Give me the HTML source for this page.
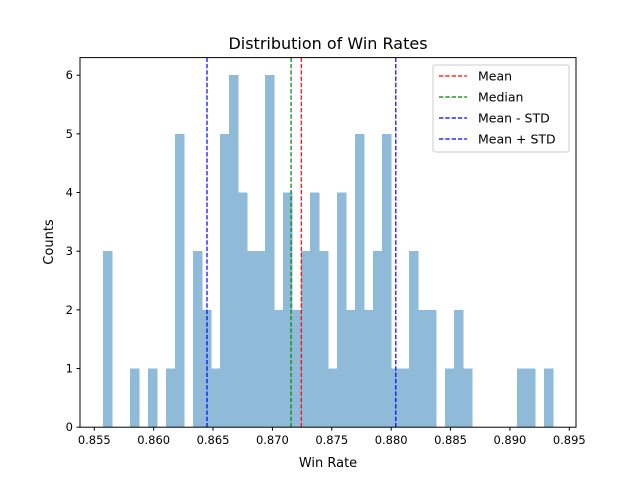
<!DOCTYPE html>
<html><head><meta charset="utf-8"><style>
body{margin:0;background:#fff;}
svg text{font-family:"DejaVu Sans","Liberation Sans",sans-serif;}
</style></head><body>
<svg id="chart" width="640" height="480" viewBox="0 0 640 480" xmlns="http://www.w3.org/2000/svg">
<rect width="640" height="480" fill="#fff"/>
<g id="bars" shape-rendering="crispEdges"></g>
<g id="vlines"></g>
<rect x="80" y="57.6" width="496" height="369.6" fill="none" stroke="#000" stroke-width="1"/>
<g id="xticks"></g>
<g id="yticks"></g>
<text x="328" y="49" font-size="16" text-anchor="middle">Distribution of Win Rates</text>
<text x="328" y="467" font-size="13" text-anchor="middle">Win Rate</text>
<text transform="translate(53,242) rotate(-90)" font-size="13" text-anchor="middle">Counts</text>
<g id="legend"></g>
</svg>
<script>
const counts=[3,0,0,1,0,1,0,1,5,0,3,2,1,5,6,4,3,3,6,2,4,2,3,4,3,1,4,2,5,2,3,5,1,1,3,2,2,0,1,2,1,0,0,0,0,0,1,1,0,1];
const binStart=0.85573, binEnd=0.89363;
const lineLabels=["Mean","Median","Mean - STD","Mean + STD"];
const lineValues=[0.87243,0.87157,0.86449,0.88039];
const lineColors=["red","green","blue","blue"];
const xTickLabels=["0.855","0.860","0.865","0.870","0.875","0.880","0.885","0.890","0.895"];
const xTickValues=[0.855,0.860,0.865,0.870,0.875,0.880,0.885,0.890,0.895];
const yTickValues=[0,1,2,3,4,5,6];
const NS="http://www.w3.org/2000/svg";
const L=80,R=576,T=57.6,B=427.2;
const xmin=0.853796,xmax=0.895564,ymax=6.3;
const X=v=>L+(v-xmin)/(xmax-xmin)*(R-L);
const Y=v=>B-v/ymax*(B-T);
function mk(tag,attrs,parent){const e=document.createElementNS(NS,tag);for(const k in attrs)e.setAttribute(k,attrs[k]);parent.appendChild(e);return e;}
const bars=document.getElementById('bars');
const w=(binEnd-binStart)/counts.length;
counts.forEach((c,i)=>{if(!c)return;
 const x0=X(binStart+i*w),x1=X(binStart+(i+1)*w);
 const r=mk('rect',{x:x0,y:Y(c),width:x1-x0+0.5,height:B-Y(c),fill:'#8fbbd9'},bars);
 
 
});
const vl=document.getElementById('vlines');
lineValues.forEach((v,i)=>{
 const l=mk('line',{x1:X(v),x2:X(v),y1:T,y2:B,stroke:lineColors[i],'stroke-width':1.2,'stroke-dasharray':'4.4,1.9'},vl);
 
 
});
const xt=document.getElementById('xticks');
xTickValues.forEach((v,i)=>{
 const x=X(v);
 const t=mk('line',{x1:x,x2:x,y1:B,y2:B+3.5,stroke:'#000'},xt);
 
 
 const tx=mk('text',{x:x,y:B+17,'font-size':11.5,'text-anchor':'middle'},xt);tx.textContent=xTickLabels[i];
 
 
});
const yt=document.getElementById('yticks');
yTickValues.forEach(v=>{
 const y=Y(v);
 const t=mk('line',{x1:L-3.5,x2:L,y1:y,y2:y,stroke:'#000'},yt);
 
 
 const tx=mk('text',{x:L-7,y:y+4,'font-size':11.5,'text-anchor':'end'},yt);tx.textContent=String(v);
 
 
});
const lg=document.getElementById('legend');
mk('rect',{x:433,y:65,width:136,height:87,rx:2,fill:'#fff','fill-opacity':0.8,stroke:'#ccc'},lg);
lineLabels.forEach((s,i)=>{
 const y=76+i*21;
 const l=mk('line',{x1:439,x2:467,y1:y,y2:y,stroke:lineColors[i],'stroke-width':1.2,'stroke-dasharray':'4.4,1.9'},lg);
 
 
 const tx=mk('text',{x:478,y:y+4.5,'font-size':12.5},lg);tx.textContent=s;
 
 
});
</script>
</body></html>
